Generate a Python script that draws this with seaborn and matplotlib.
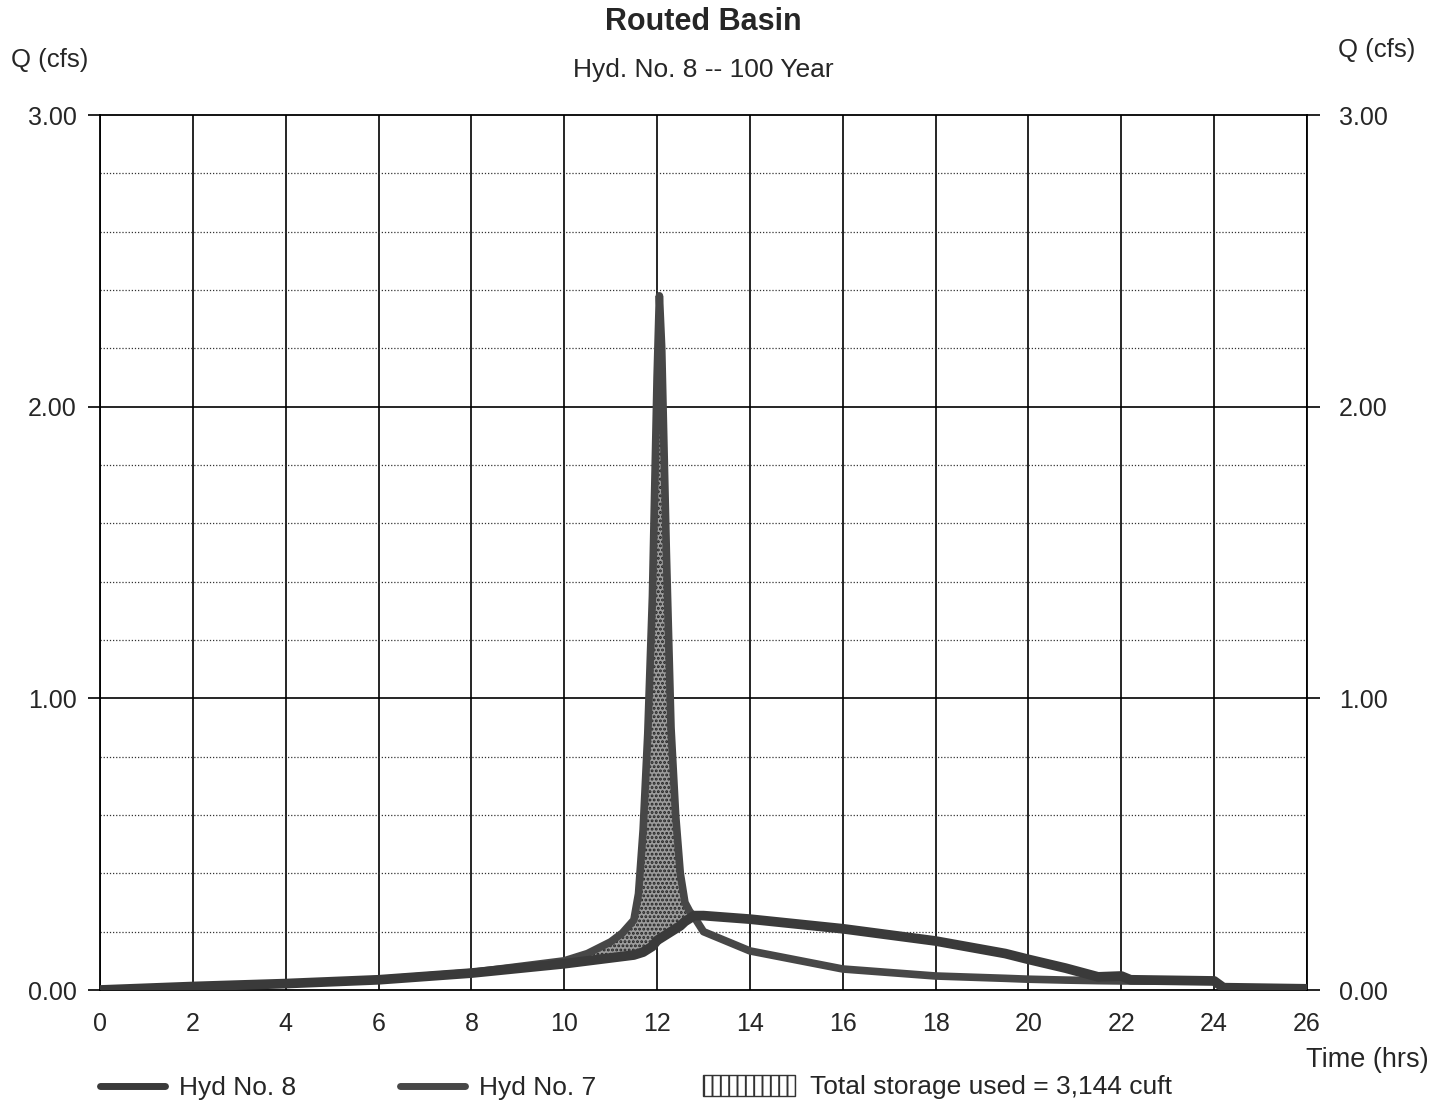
import numpy as np
import pandas as pd
import matplotlib
matplotlib.use("Agg")
import matplotlib.pyplot as plt
from matplotlib.lines import Line2D
from matplotlib.patches import Patch
import seaborn as sns

# ---------------- data ----------------
time_hrs = [0, 2, 4, 6, 8, 10, 10.5, 11, 11.25, 11.5, 11.6, 11.7, 11.8, 11.9,
            12.0, 12.05, 12.1, 12.2, 12.3, 12.4, 12.5, 12.6, 12.7, 12.8, 13.0,
            14, 16, 18, 19.5, 20, 20.8, 21.5, 22, 22.2, 24, 24.2, 26]
hyd7_inflow = [0.0, 0.012, 0.022, 0.036, 0.06, 0.10, 0.125, 0.165, 0.195,
               0.24, 0.33, 0.55, 0.88, 1.35, 2.10, 2.38, 2.20, 1.50, 0.90,
               0.60, 0.40, 0.30, 0.27, 0.25, 0.20, 0.134, 0.072, 0.048, 0.040,
               0.037, 0.034, 0.032, 0.031, 0.031, 0.030, 0.008, 0.004]
hyd8_outflow = [0.0, 0.012, 0.022, 0.035, 0.058, 0.09, 0.10, 0.11, 0.115,
                0.12, 0.125, 0.13, 0.14, 0.15, 0.17, 0.175, 0.18, 0.19, 0.20,
                0.21, 0.22, 0.235, 0.245, 0.255, 0.255, 0.243, 0.21, 0.168,
                0.125, 0.105, 0.075, 0.045, 0.048, 0.035, 0.031, 0.008, 0.004]
x_ticks = list(range(0, 27, 2))
y_ticks = [0, 1, 2, 3]
title = "Routed Basin"
subtitle = "Hyd. No. 8 -- 100 Year"
storage_label = "Total storage used = 3,144 cuft"

df = pd.DataFrame({"t": time_hrs, "in": hyd7_inflow, "out": hyd8_outflow})

# ---------------- style ----------------
sns.set_theme(style="white")
plt.rcParams["font.family"] = ["Liberation Sans", "DejaVu Sans"]
plt.rcParams["hatch.linewidth"] = 1.4

W, H = 1444, 1106
fig = plt.figure(figsize=(W / 100, H / 100), dpi=100)
fig.patch.set_facecolor("white")
ax = fig.add_axes([100 / W, 1 - 990 / H, 1207 / W, 875 / H])
ax.set_facecolor("white")

# grid
for xv in x_ticks:
    ax.axvline(xv, color="black", lw=1.2, zorder=1)
for yv in [1, 2]:
    ax.axhline(yv, color="black", lw=1.2, zorder=1)
for yv in np.arange(0.2, 3.0, 0.2):
    if abs(yv - round(yv)) > 1e-6:
        ax.axhline(yv, color="#333333", lw=0.9, ls=(0, (1, 1.5)), zorder=1)

# storage fill
t = np.array(time_hrs)
qi = np.array(hyd7_inflow)
qo = np.array(hyd8_outflow)
ax.fill_between(t, qo, qi, where=qi >= qo, interpolate=True,
                facecolor="#9c9c9c", edgecolor="#222222", hatch="....",
                linewidth=0, zorder=2)

# hydrographs
sns.lineplot(data=df, x="t", y="out", ax=ax, color="#3a3a3a", lw=7,
             zorder=4, legend=False)
sns.lineplot(data=df, x="t", y="in", ax=ax, color="#474747", lw=5.5,
             zorder=3, legend=False)

ax.set_xlim(0, 26)
ax.set_ylim(0, 3)
ax.set_xticks(x_ticks)
ax.set_xticklabels([str(v) for v in x_ticks], fontsize=18)
ax.set_yticks(y_ticks)
ax.set_yticklabels([f"{v:.2f}" for v in y_ticks], fontsize=18)
ax.set_xlabel("")
ax.set_ylabel("")
ax.tick_params(axis="x", length=0, pad=16)
ax.tick_params(axis="y", direction="out", length=9, width=1.2, color="black",
               pad=8, left=True)
for s in ax.spines.values():
    s.set_visible(True)
    s.set_color("black")
    s.set_linewidth(1.3)

ax2 = ax.twinx()
ax2.set_ylim(0, 3)
ax2.set_yticks(y_ticks)
ax2.set_yticklabels([f"{v:.2f}" for v in y_ticks], fontsize=18)
ax2.tick_params(axis="y", direction="out", length=9, width=1.2, color="black",
                pad=14, right=True)
ax2.grid(False)
for s in ax2.spines.values():
    s.set_visible(False)

# texts
fig.text(703 / W, 1 - 22 / H, title, ha="center", va="center",
         fontsize=22, fontweight="bold")
fig.text(703 / W, 1 - 70 / H, subtitle, ha="center", va="center", fontsize=19)
fig.text(50 / W, 1 - 60 / H, "Q (cfs)", ha="center", va="center", fontsize=18.5)
fig.text(1377 / W, 1 - 50 / H, "Q (cfs)", ha="center", va="center", fontsize=18.5)
fig.text(1367 / W, 1 - 1060 / H, "Time (hrs)", ha="center", va="center",
         fontsize=19.5)

# legend (three separate single-entry legends to match spacing)
leg_kw = dict(loc="center left", frameon=False, fontsize=19, borderpad=0,
              borderaxespad=0, handletextpad=0.55)
l1 = fig.legend([Line2D([0], [0], color="#3a3a3a", lw=5)], ["Hyd No. 8"],
                bbox_to_anchor=(100 / W, 1 - 1088 / H), handlelength=2.45,
                **leg_kw)
l2 = fig.legend([Line2D([0], [0], color="#474747", lw=5)], ["Hyd No. 7"],
                bbox_to_anchor=(400 / W, 1 - 1088 / H), handlelength=2.45,
                **leg_kw)
l3 = fig.legend([Patch(facecolor="white", edgecolor="#333333", hatch="||",
                       linewidth=1)], [storage_label],
                bbox_to_anchor=(703 / W, 1 - 1087 / H), handlelength=3.5,
                handleheight=0.85, **leg_kw)

fig.savefig("out.png", dpi=100, facecolor="white")
